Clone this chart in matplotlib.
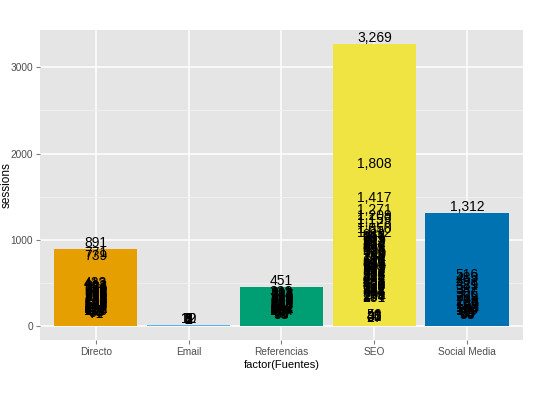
import matplotlib
matplotlib.use("Agg")
import matplotlib.pyplot as plt
from matplotlib.ticker import MultipleLocator

# sessions per row, grouped by source (bars overlap, so the tallest shows)
fuentes = ["Directo", "Email", "Referencias", "SEO", "Social Media"]
directo = [891, 771, 739, 433, 412, 398, 384, 371, 356, 342, 330, 318, 307,
           296, 284, 271, 260, 248, 237, 226, 214, 203, 195, 187, 176, 166,
           157, 148, 139, 131, 122, 115, 106, 98, 91, 84, 77, 71]
email = [12, 10, 8, 6, 5, 4, 3, 2, 2, 1]
referencias = [451, 322, 311, 298, 287, 276, 263, 251, 240, 229, 216, 204,
               195, 186, 174, 163, 152, 141, 131, 122, 113, 104, 95, 87, 79,
               72, 65, 58]
seo = [3269, 1808, 1417, 1271, 1209, 1159, 1128, 1050, 1012, 983, 967, 951,
       935, 919, 903, 887, 864, 842, 829, 815, 796, 776, 762, 749, 731, 712,
       700, 688, 671, 653, 637, 621, 609, 598, 583, 567, 551, 534, 523, 512,
       499, 487, 471, 455, 438, 421, 409, 398, 380, 362, 347, 331, 318, 305,
       291, 278, 264, 251, 56, 48, 41, 35, 31, 27]
social = [1312, 516, 483, 452, 421, 389, 347, 306, 265, 224, 205, 187, 169,
          152, 135, 118, 107, 96, 85, 74, 66, 58]
colores = ["#E69F00", "#56B4E9", "#009E73", "#F0E442", "#0072B2"]

series = [directo, email, referencias, seo, social]

plt.rcParams["font.family"] = ["Liberation Sans", "DejaVu Sans"]

fig = plt.figure(figsize=(5.4, 3.95), dpi=100)
ax = fig.add_axes([0.074, 0.139, 0.8945, 0.785])

ax.set_facecolor("#E5E5E5")
ax.yaxis.set_major_locator(MultipleLocator(1000))
ax.yaxis.set_minor_locator(MultipleLocator(500))
ax.grid(which="major", color="white", linewidth=1.1)
ax.grid(which="minor", axis="y", color="#F2F2F2", linewidth=0.6)
ax.set_axisbelow(True)

for i, (vals, col) in enumerate(zip(series, colores)):
    for v in sorted(vals, reverse=True):
        ax.bar(i, v, width=0.9, color=col, zorder=2)
    for v in vals:
        ax.annotate(f"{v:,}", (i, v), xytext=(0, 1.5), textcoords="offset points",
                    ha="center", va="baseline", fontsize=10, color="black", zorder=3)

top = max(max(s) for s in series)
ax.set_xlim(-0.6, len(fuentes) - 0.4)
ax.set_ylim(-0.05 * top, 1.05 * top)
ax.set_xticks(range(len(fuentes)))
ax.set_xticklabels(fuentes)

for side in ax.spines.values():
    side.set_visible(False)
ax.tick_params(axis="both", which="major", colors="#7F7F7F", labelcolor="#4D4D4D",
               labelsize=7.3, length=3, width=0.8, pad=2)
ax.tick_params(axis="y", which="minor", length=0)

ax.set_xlabel("factor(Fuentes)", fontsize=8, labelpad=2)
ax.set_ylabel("sessions", fontsize=8.5)
ax.yaxis.set_label_coords(-0.056, 0.5)

fig.savefig("out.png", dpi=100)
